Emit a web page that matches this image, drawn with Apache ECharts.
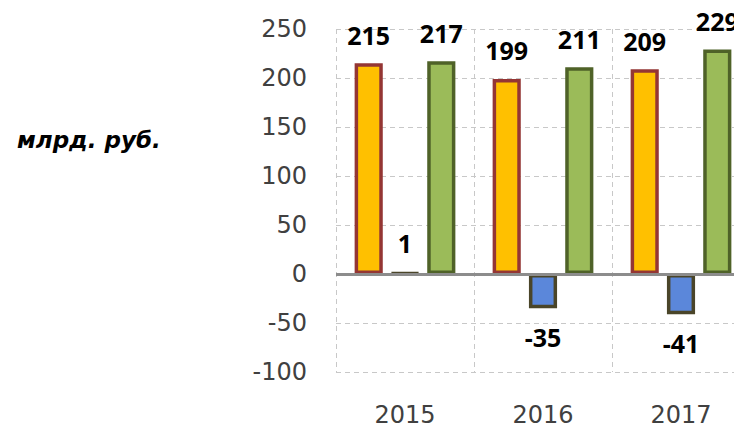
<!DOCTYPE html>
<html>
<head>
<meta charset="utf-8">
<script src="https://cdn.jsdelivr.net/npm/echarts@6/dist/echarts.min.js"></script>
<style>
    html, body { margin: 0; padding: 0; background: #fff; }
    #chart { width: 734px; height: 431px; }
</style>
</head>
<body>
<div id="chart"></div>
<script>
// данные диаграммы
const years = ['2015', '2016', '2017'];
const seriesA = [215, 199, 209];
const seriesB = [1, -35, -41];
const seriesC = [217, 211, 229];
const unitLabel = 'млрд. руб.';

const chart = echarts.init(document.getElementById('chart'), null, { renderer: 'svg' });

const labelFont = {
    show: true,
    color: '#000',
    fontFamily: 'Open Sans',
    fontWeight: 'bold',
    fontSize: 25
};

function makeBar(name, data, fill, border) {
    return {
        name: name,
        type: 'bar',
        data: data,
        barGap: '29%',
        barCategoryGap: '27%',
        itemStyle: {
            color: fill,
            borderColor: border,
            borderWidth: 3.5
        },
        label: Object.assign({}, labelFont, {
            position: 'top',
            distance: 16
        })
    };
}

const barB = makeBar('B', seriesB, '#5B87DA', '#4A4529');
// подписи отрицательных столбцов ниже
barB.data = seriesB.map((v) => ({
    value: v,
    label: v < 0 ? { position: 'bottom', distance: 16 } : undefined
}));
barB.markLine = {
    silent: true,
    symbol: 'none',
    label: { show: false },
    lineStyle: { color: '#8C8C8C', type: 'solid', width: 3 },
    data: [{ yAxis: 0 }]
};

const tickFont = {
    color: '#404040',
    fontFamily: 'DejaVu Sans',
    fontSize: 24
};

const option = {
    animation: false,
    grid: { left: 336, top: 29, width: 414, height: 343, outerBoundsMode: 'none' },
    xAxis: {
        type: 'category',
        data: years,
        axisLine: { show: false },
        axisTick: { show: false },
        axisLabel: Object.assign({}, tickFont, { margin: 31 }),
        splitLine: {
            show: true,
            lineStyle: { color: '#C8C8C8', type: [5, 4], width: 1 }
        }
    },
    yAxis: {
        type: 'value',
        min: -100,
        max: 250,
        interval: 50,
        axisLine: { show: false },
        axisTick: { show: false },
        axisLabel: Object.assign({}, tickFont, { margin: 29 }),
        splitLine: {
            lineStyle: { color: '#C8C8C8', type: [5, 4], width: 1 }
        }
    },
    graphic: [{
        type: 'text',
        left: 17,
        top: 128,
        style: {
            text: unitLabel,
            fill: '#000',
            font: 'italic bold 23px "DejaVu Sans"'
        }
    }],
    series: [
        makeBar('A', seriesA, '#FFC000', '#943634'),
        barB,
        makeBar('C', seriesC, '#9BBB59', '#4F6228')
    ]
};

chart.setOption(option);
</script>
</body>
</html>
